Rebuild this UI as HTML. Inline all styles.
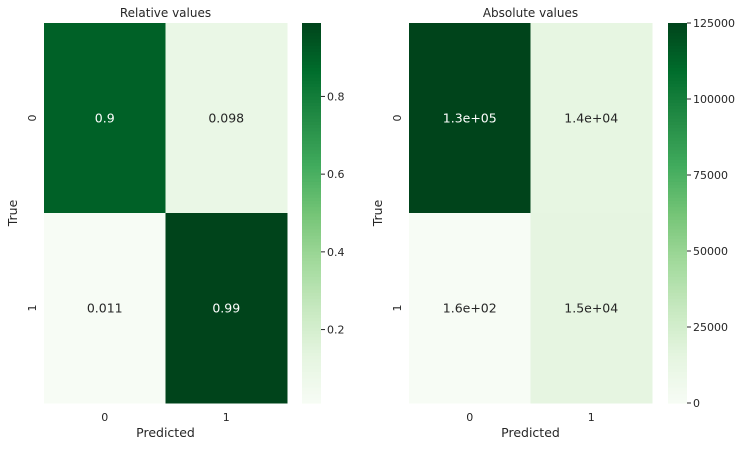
<!DOCTYPE html>
<html><head><meta charset="utf-8"><style>
body{margin:0;background:#fff;}
svg text{font-family:"DejaVu Sans","Liberation Sans",sans-serif;fill:#262626;}
</style></head><body>
<svg id="chart" width="745" height="447" xmlns="http://www.w3.org/2000/svg"></svg>
<script>
const rowLabels = ["0","1"];
const colLabels = ["0","1"];
const relValues = [[0.902,0.098],[0.011,0.989]];
const relLabels = ["0.9","0.098","0.011","0.99"];
const absValues = [[125500,14000],[160,15000]];
const absLabels = ["1.3e+05","1.4e+04","1.6e+02","1.5e+04"];
const relTicks = [0.2,0.4,0.6,0.8];
const absTicks = [0,25000,50000,75000,100000,125000];

const greens = ["#f7fcf5","#e5f5e0","#c7e9c0","#a1d99b","#74c476","#41ab5d","#238b45","#006d2c","#00441b"];
function hex(h){return [1,3,5].map(i=>parseInt(h.substr(i,2),16));}
function cmap(t){t=Math.max(0,Math.min(1,t));const p=t*(greens.length-1);const i=Math.min(Math.floor(p),greens.length-2);const f=p-i;const a=hex(greens[i]),b=hex(greens[i+1]);return "rgb("+a.map((v,k)=>Math.round(v+(b[k]-v)*f)).join(",")+")";}
const NS="http://www.w3.org/2000/svg";
const svg=document.getElementById("chart");
function mk(tag,attrs,parent){const e=document.createElementNS(NS,tag);for(const k in attrs)e.setAttribute(k,attrs[k]);(parent||svg).appendChild(e);return e;}

function panel(cfg){
  const g=mk("g",{});
  
  
  const {x0,x1,y0,y1,cb0,cb1,vals,labels,vmin,vmax,ticks,title,fmt}=cfg;
  const cw=(x1-x0)/colLabels.length, ch=(y1-y0)/rowLabels.length;
  const xs=j=>x0+j*cw, ys=i=>y0+i*ch;
  const norm=v=>(v-vmin)/(vmax-vmin);
  let k=0;
  vals.forEach((row,i)=>row.forEach((v,j)=>{
    const r=mk("rect",{x:xs(j),y:ys(i),width:cw+0.5,height:ch+0.5,fill:cmap(norm(v))},g);
    
    
    const t=mk("text",{x:xs(j)+cw/2,y:ys(i)+ch/2+4.5,"text-anchor":"middle","font-size":"12.5"},g);
    t.textContent=labels[k++];
    
    
    t.style.fill = norm(v)>0.55 ? "#ffffff" : "#262626";
  }));
  colLabels.forEach((c,j)=>{const t=mk("text",{x:xs(j)+cw/2,y:y1+18,"text-anchor":"middle","font-size":"11"},g);t.textContent=c;
    
    });
  rowLabels.forEach((c,i)=>{const cy=ys(i)+ch/2,cx=x0-12;const t=mk("text",{x:cx,y:cy+4,"text-anchor":"middle","font-size":"11",transform:"rotate(-90 "+cx+" "+(cy)+")"},g);t.textContent=c;
    
    });
  const tt=mk("text",{x:(x0+x1)/2,y:17,"text-anchor":"middle","font-size":"12"},g);tt.textContent=title;
  
  
  const xl=mk("text",{x:(x0+x1)/2,y:437,"text-anchor":"middle","font-size":"12.5"},g);xl.textContent="Predicted";
  
  
  const yx=x0-27,yy=(y0+y1)/2;
  const yl=mk("text",{x:yx,y:yy,"text-anchor":"middle","font-size":"12.5",transform:"rotate(-90 "+yx+" "+yy+")"},g);yl.textContent="True";
  
  
  // colorbar
  const cb=mk("g",{},g);
  
  
  const n=120;
  for(let s=0;s<n;s++){const v0=s/n;mk("rect",{x:cb0,y:y1-(s+1)*(y1-y0)/n,width:cb1-cb0,height:(y1-y0)/n+0.6,fill:cmap(v0+0.5/n)},cb);}
  const cy=v=>y1-norm(v)*(y1-y0);
  ticks.forEach(v=>{const y=cy(v);mk("line",{x1:cb1,x2:cb1+4,y1:y,y2:y,stroke:"#262626","stroke-width":1},cb);
    const t=mk("text",{x:cb1+6,y:y+4,"font-size":"11"},cb);t.textContent=fmt(v);
    
    });
}
panel({name:"relative-values-heatmap",x0:44,x1:287,y0:23,y1:403,cb0:302,cb1:321,vals:relValues,labels:relLabels,vmin:0.011,vmax:0.989,ticks:relTicks,title:"Relative values",fmt:v=>v.toFixed(1)});
panel({name:"absolute-values-heatmap",x0:409,x1:652,y0:23,y1:403,cb0:668,cb1:687,vals:absValues,labels:absLabels,vmin:0,vmax:125000,ticks:absTicks,title:"Absolute values",fmt:v=>String(v)});
</script>
</body></html>
